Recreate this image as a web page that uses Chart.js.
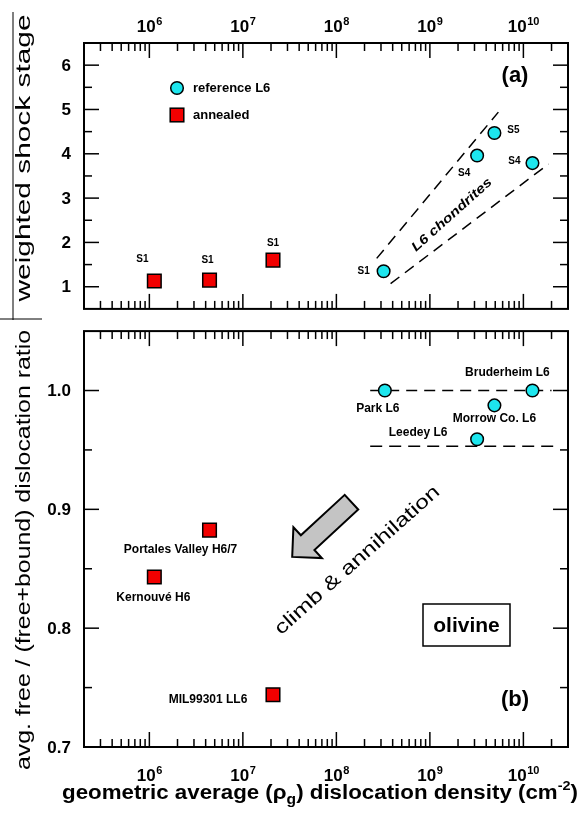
<!DOCTYPE html>
<html>
<head>
<meta charset="utf-8">
<script src="https://cdn.jsdelivr.net/npm/chart.js@4.4.0/dist/chart.umd.min.js"></script>
<style>
html, body { margin: 0; padding: 0; background: #fff; }
#wrap { position: relative; width: 582px; height: 813px; }
#wrap canvas { position: absolute; left: 0; }
</style>
</head>
<body>
<div id="wrap">
    <canvas id="topChart" width="582" height="320" style="top:0px"></canvas>
    <canvas id="botChart" width="582" height="493" style="top:320px"></canvas>
</div>
<script>
// ---- data ----
// (a) weighted shock stage
const refX = [3.2e8, 3.2e9, 4.9e9, 1.25e10];
const refShock = [1.35, 3.96, 4.47, 3.79];
const refShockNames = ['S1', 'S4', 'S5', 'S4'];
const annX = [1.13e6, 4.4e6, 2.1e7];
const annShock = [1.13, 1.15, 1.6];
const annShockNames = ['S1', 'S1', 'S1'];
const bandUpperX = [2.7e8, 5.4e9];
const bandUpperY = [1.64, 4.94];
const bandLowerX = [3.8e8, 1.86e10];
const bandLowerY = [1.07, 3.77];

// (b) free / (free+bound) ratio
const refRatioX = [3.3e8, 3.2e9, 4.9e9, 1.25e10];
const refRatio = [1.0, 0.959, 0.9875, 1.0];
const refRatioNames = ['Park L6', 'Leedey L6', 'Morrow Co. L6', 'Bruderheim L6'];
const annRatioX = [4.4e6, 1.13e6, 2.1e7];
const annRatio = [0.8825, 0.843, 0.744];
const annRatioNames = ['Portales Valley H6/7', 'Kernouvé H6', 'MIL99301 LL6'];
const ratioLine1X = [2.3e8, 2.0e10];
const ratioLine1Y = [1.0, 1.0];
const ratioLine2X = [2.3e8, 2.3e10];
const ratioLine2Y = [0.953, 0.953];

// axes
const xMin = 2e5, xMax = 3e10;
const decadeTicks = [1e6, 1e7, 1e8, 1e9, 1e10];
const decadeExp = ['6', '7', '8', '9', '10'];
const shockTicks = [1, 2, 3, 4, 5, 6];
const ratioTicks = [0.7, 0.8, 0.9, 1.0];
const ratioTickLabels = ['0.7', '0.8', '0.9', '1.0'];

// arrow + rotated note (data coords)
const arrowFrom = [1.45e8, 0.906];
const arrowTo = [3.37e7, 0.86];
const climbAt = [1.68e8, 0.857];

// ---- styling / placement ----
const FONT = "'Liberation Sans', Arial, sans-serif";
const CYAN = '#1de6ee';
const RED = '#f20000';
const refShockOff = [[-20, 0], [-13, 18], [19, -3], [-18, -2]];
const annShockOff = [[-12, -22], [-2, -20], [0, -17]];
const refRatioOff = [[-7, 18], [-59, -7], [0, 13], [-25, -18]];
const annRatioOff = [[-29, 20], [-1, 21], [-65, 5]];

function pts(xs, ys) {
    return xs.map((x, i) => ({ x: x, y: ys[i] }));
}

function seg(ctx, x1, y1, x2, y2) {
    ctx.beginPath();
    ctx.moveTo(x1, y1);
    ctx.lineTo(x2, y2);
    ctx.stroke();
}

// draw text stretched to a given width, optionally rotated
function fitText(ctx, text, cx, cy, width, angle, font) {
    ctx.save();
    ctx.font = font;
    ctx.translate(cx, cy);
    ctx.rotate(angle);
    const w = ctx.measureText(text).width;
    ctx.scale(width / w, 1);
    ctx.textAlign = 'center';
    ctx.textBaseline = 'middle';
    ctx.fillStyle = '#000';
    ctx.fillText(text, 0, 0);
    ctx.restore();
}

function powerLabel(ctx, exp, cx, baseline) {
    ctx.save();
    ctx.fillStyle = '#000';
    ctx.textBaseline = 'alphabetic';
    ctx.textAlign = 'left';
    ctx.font = 'bold 17px ' + FONT;
    const w1 = ctx.measureText('10').width;
    ctx.font = 'bold 11px ' + FONT;
    const w2 = ctx.measureText(exp).width;
    const x0 = cx - (w1 + w2) / 2;
    ctx.font = 'bold 17px ' + FONT;
    ctx.fillText('10', x0, baseline);
    ctx.font = 'bold 11px ' + FONT;
    ctx.fillText(exp, x0 + w1 + 0.5, baseline - 7);
    ctx.restore();
}

// frame with inward ticks on all four sides
function drawFrame(chart, yStep, yMajor, labelSide) {
    const { ctx, chartArea: a } = chart;
    const x = chart.scales.x, y = chart.scales.y;
    ctx.save();
    ctx.strokeStyle = '#000';
    ctx.lineWidth = 1.5;
    for (let e = 5; e <= 10; e++) {
        for (let k = 1; k < 10; k++) {
            const v = k * Math.pow(10, e);
            if (v <= xMin * 1.01 || v >= xMax * 0.99) continue;
            const px = x.getPixelForValue(v);
            const len = k === 1 ? 15 : 8;
            seg(ctx, px, a.top, px, a.top + len);
            seg(ctx, px, a.bottom, px, a.bottom - len);
        }
    }
    const n = Math.round((y.max - y.min) / yStep);
    for (let i = 1; i < n; i++) {
        const v = y.min + i * yStep;
        const py = y.getPixelForValue(v);
        const major = Math.abs(v / yMajor - Math.round(v / yMajor)) < 1e-6;
        const len = major ? 15 : 8;
        seg(ctx, a.left, py, a.left + len, py);
        seg(ctx, a.right, py, a.right - len, py);
    }
    ctx.lineWidth = 2;
    ctx.strokeRect(a.left, a.top, a.right - a.left, a.bottom - a.top);

    decadeTicks.forEach((v, i) => {
        const px = x.getPixelForValue(v);
        if (labelSide === 'top') powerLabel(ctx, decadeExp[i], px, a.top - 11);
        else powerLabel(ctx, decadeExp[i], px, a.bottom + 34);
    });
    ctx.restore();
}

function drawPointLabels(chart, dsIndex, names, offs, font) {
    const { ctx } = chart;
    const meta = chart.getDatasetMeta(dsIndex);
    ctx.save();
    ctx.font = font;
    ctx.fillStyle = '#000';
    ctx.textAlign = 'center';
    ctx.textBaseline = 'middle';
    meta.data.forEach((p, i) => {
        ctx.fillText(names[i], p.x + offs[i][0], p.y + offs[i][1]);
    });
    ctx.restore();
}

const baseScales = (yMin, yMax) => ({
    x: { type: 'logarithmic', min: xMin, max: xMax, display: false },
    y: { type: 'linear', min: yMin, max: yMax, display: false }
});

const baseOptions = {
    responsive: false,
    animation: false,
    events: [],
    plugins: { legend: { display: false }, tooltip: { enabled: false } }
};

const pointRef = {
    pointStyle: 'circle', pointRadius: 6.3, backgroundColor: CYAN,
    borderColor: '#000', borderWidth: 1.5, showLine: false
};
const pointAnn = {
    pointStyle: 'rect', pointRadius: 9.6, backgroundColor: RED,
    borderColor: '#000', borderWidth: 1.5, showLine: false
};
const dashLine = {
    showLine: true, pointRadius: 0, borderColor: '#000',
    borderWidth: 1.5, borderDash: [11, 7], fill: false
};

// ---- panel (a) ----
const topPlugin = {
    id: 'topDecor',
    afterDatasetsDraw(chart) {
        drawPointLabels(chart, 0, refShockNames, refShockOff, 'bold 10px ' + FONT);
        drawPointLabels(chart, 1, annShockNames, annShockOff, 'bold 10px ' + FONT);
    },
    afterDraw(chart) {
        const ctx = chart.ctx;
        const a = chart.chartArea;
        drawFrame(chart, 0.5, 1, 'top');

        ctx.save();
        ctx.fillStyle = '#000';
        ctx.font = 'bold 17px ' + FONT;
        ctx.textAlign = 'right';
        ctx.textBaseline = 'middle';
        shockTicks.forEach(v => ctx.fillText(String(v), a.left - 13, chart.scales.y.getPixelForValue(v) + 1));

        // legend
        ctx.lineWidth = 1.5;
        ctx.strokeStyle = '#000';
        ctx.fillStyle = CYAN;
        ctx.beginPath();
        ctx.arc(a.left + 93, a.top + 45, 6.3, 0, Math.PI * 2);
        ctx.fill();
        ctx.stroke();
        ctx.fillStyle = RED;
        ctx.fillRect(a.left + 86.2, a.top + 65.2, 13.6, 13.6);
        ctx.strokeRect(a.left + 86.2, a.top + 65.2, 13.6, 13.6);
        ctx.fillStyle = '#000';
        ctx.font = 'bold 13px ' + FONT;
        ctx.textAlign = 'left';
        ctx.fillText('reference L6', a.left + 109, a.top + 45);
        ctx.fillText('annealed', a.left + 109, a.top + 72);

        ctx.font = 'bold 22px ' + FONT;
        ctx.textAlign = 'center';
        ctx.fillText('(a)', 515, 76);

        // left frame lines of the original figure
        ctx.lineWidth = 1;
        seg(ctx, 13, 12, 13, 320);
        seg(ctx, 0, 319, 42, 319);
        ctx.restore();

        fitText(ctx, 'L6 chondrites', 452, 215, 103, -0.733, 'italic bold 13px ' + FONT);
        fitText(ctx, 'weighted shock stage', 24, 158, 287, -Math.PI / 2, '20px ' + FONT);
    }
};

new Chart(document.getElementById('topChart'), {
    type: 'scatter',
    data: {
        datasets: [
            Object.assign({ data: pts(refX, refShock) }, pointRef),
            Object.assign({ data: pts(annX, annShock) }, pointAnn),
            Object.assign({ data: pts(bandUpperX, bandUpperY) }, dashLine),
            Object.assign({ data: pts(bandLowerX, bandLowerY) }, dashLine)
        ]
    },
    options: Object.assign({}, baseOptions, {
        layout: { padding: { left: 84, right: 14, top: 43, bottom: 6 } },
        scales: baseScales(0.5, 6.5)
    }),
    plugins: [topPlugin]
});

// ---- panel (b) ----
const OFF = 320; // page y of the second canvas
const botPlugin = {
    id: 'botDecor',
    afterDatasetsDraw(chart) {
        drawPointLabels(chart, 0, refRatioNames, refRatioOff, 'bold 12px ' + FONT);
        drawPointLabels(chart, 1, annRatioNames, annRatioOff, 'bold 12px ' + FONT);
    },
    afterDraw(chart) {
        const ctx = chart.ctx;
        const a = chart.chartArea;
        const xs = chart.scales.x, ys = chart.scales.y;

        // arrow
        const x1 = xs.getPixelForValue(arrowFrom[0]), y1 = ys.getPixelForValue(arrowFrom[1]);
        const x2 = xs.getPixelForValue(arrowTo[0]), y2 = ys.getPixelForValue(arrowTo[1]);
        const L = Math.hypot(x2 - x1, y2 - y1);
        const ux = (x2 - x1) / L, uy = (y2 - y1) / L;
        const nx = -uy, ny = ux;
        const sw = 10, hw = 21, hl = 21;
        const bx = x2 - ux * hl, by = y2 - uy * hl;
        ctx.save();
        ctx.beginPath();
        ctx.moveTo(x1 + nx * sw, y1 + ny * sw);
        ctx.lineTo(bx + nx * sw, by + ny * sw);
        ctx.lineTo(bx + nx * hw, by + ny * hw);
        ctx.lineTo(x2, y2);
        ctx.lineTo(bx - nx * hw, by - ny * hw);
        ctx.lineTo(bx - nx * sw, by - ny * sw);
        ctx.lineTo(x1 - nx * sw, y1 - ny * sw);
        ctx.closePath();
        ctx.fillStyle = '#c4c4c4';
        ctx.fill();
        ctx.lineWidth = 2;
        ctx.lineJoin = 'miter';
        ctx.strokeStyle = '#000';
        ctx.stroke();
        ctx.restore();

        fitText(ctx, 'climb & annihilation',
            xs.getPixelForValue(climbAt[0]), ys.getPixelForValue(climbAt[1]),
            214, -0.726, '19px ' + FONT);

        drawFrame(chart, 0.05, 0.1, 'bottom');

        ctx.save();
        ctx.fillStyle = '#000';
        ctx.font = 'bold 17px ' + FONT;
        ctx.textAlign = 'right';
        ctx.textBaseline = 'middle';
        ratioTicks.forEach((v, i) => ctx.fillText(ratioTickLabels[i], a.left - 13, ys.getPixelForValue(v) + 1));

        // olivine box
        ctx.lineWidth = 1.5;
        ctx.strokeStyle = '#000';
        ctx.strokeRect(423, 604 - OFF, 87, 42);
        ctx.font = 'bold 21px ' + FONT;
        ctx.textAlign = 'center';
        ctx.fillText('olivine', 466.5, 626 - OFF);

        ctx.font = 'bold 22px ' + FONT;
        ctx.fillText('(b)', 515, 700 - OFF);

        // x title with sub/superscript
        const runs = [
            ['geometric average (\u03c1', 20, 0],
            ['g', 14, 5],
            [') dislocation density (cm', 20, 0],
            ['-2', 13, -9],
            [')', 20, 0]
        ];
        let total = 0;
        runs.forEach(r => { ctx.font = 'bold ' + r[1] + 'px ' + FONT; r.push(ctx.measureText(r[0]).width); total += r[3]; });
        const target = 516, sx = target / total;
        ctx.translate(62, 799 - OFF);
        ctx.scale(sx, 1);
        ctx.textAlign = 'left';
        ctx.textBaseline = 'alphabetic';
        let cx = 0;
        runs.forEach(r => { ctx.font = 'bold ' + r[1] + 'px ' + FONT; ctx.fillText(r[0], cx, r[2]); cx += r[3]; });
        ctx.restore();

        fitText(ctx, 'avg. free / (free+bound) dislocation ratio', 24, 550 - OFF, 440, -Math.PI / 2, '20px ' + FONT);
    }
};

new Chart(document.getElementById('botChart'), {
    type: 'scatter',
    data: {
        datasets: [
            Object.assign({ data: pts(refRatioX, refRatio) }, pointRef),
            Object.assign({ data: pts(annRatioX, annRatio) }, pointAnn),
            Object.assign({ data: pts(ratioLine1X, ratioLine1Y) }, dashLine),
            Object.assign({ data: pts(ratioLine2X, ratioLine2Y) }, dashLine, { borderDash: [12, 7] })
        ]
    },
    options: Object.assign({}, baseOptions, {
        layout: { padding: { left: 84, right: 14, top: 6, bottom: 66 } },
        scales: baseScales(0.7, 1.05)
    }),
    plugins: [botPlugin]
});
</script>
</body>
</html>
